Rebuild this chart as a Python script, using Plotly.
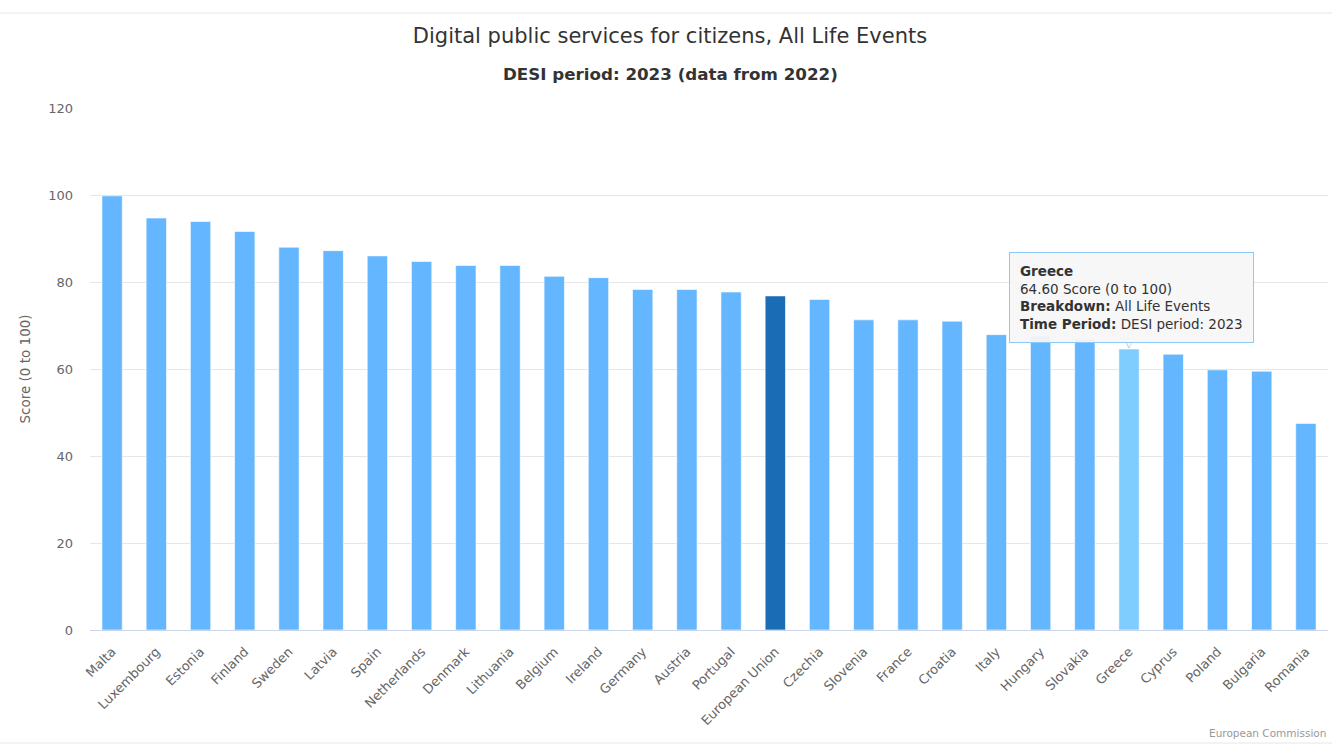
import plotly.graph_objects as go

# Scores (0 to 100), DESI period 2023
countries = ["Malta", "Luxembourg", "Estonia", "Finland", "Sweden", "Latvia", "Spain",
             "Netherlands", "Denmark", "Lithuania", "Belgium", "Ireland", "Germany", "Austria",
             "Portugal", "European Union", "Czechia", "Slovenia", "France", "Croatia", "Italy",
             "Hungary", "Slovakia", "Greece", "Cyprus", "Poland", "Bulgaria", "Romania"]
scores = [99.8, 94.7, 93.9, 91.6, 88.0, 87.2, 86.0, 84.7, 83.8, 83.8, 81.3, 81.0, 78.3, 78.3,
          77.7, 76.8, 76.0, 71.3, 71.3, 71.0, 67.9, 67.6, 67.0, 64.60, 63.4, 59.8, 59.5, 47.5]

highlight_avg = "European Union"
hovered = "Greece"

BASE = "#64b6fe"
AVG = "#1a6cb4"
HOVER = "#7fccff"
colors = [AVG if c == highlight_avg else HOVER if c == hovered else BASE for c in countries]

FONT = "DejaVu Sans"
W, H = 1332, 755
L, R, T, B = 90, 4, 108, 125
PW, PH = W - L - R, H - T - B

fig = go.Figure(go.Bar(
    x=countries, y=scores,
    marker=dict(color=colors, line=dict(color="rgba(255,255,255,0.6)", width=1)),
    hoverinfo="skip",
))

g_idx = countries.index(hovered)
g_x, g_y = countries[g_idx], scores[g_idx]
tooltip_text = ("<b>Greece</b><br>%.2f Score (0 to 100)<br><b>Breakdown:</b> All Life Events"
                "<br><b>Time Period:</b> DESI period: 2023" % g_y)

annotations = [
    # tooltip pointer: outline then fill
    dict(x=g_x, y=g_y, xref="x", yref="y", text="▼", showarrow=False,
         xanchor="center", yanchor="bottom", yshift=-4,
         font=dict(family=FONT, size=15, color="#8ccaf5")),
    dict(x=g_x, y=g_y, xref="x", yref="y", text="▼", showarrow=False,
         xanchor="center", yanchor="bottom", yshift=-2,
         font=dict(family=FONT, size=13, color="#f7f7f7")),
    dict(x=g_x, y=g_y, xref="x", yref="y", text=tooltip_text,
         showarrow=False, xanchor="center", yanchor="bottom", yshift=6, xshift=2,
         align="left", bgcolor="rgba(247,247,247,0.95)", bordercolor="#8ccaf5",
         borderwidth=1, borderpad=10,
         font=dict(family=FONT, size=13.5, color="#333333")),
    dict(text="<b>DESI period: 2023 (data from 2022)</b>", xref="paper", yref="paper",
         x=(W / 2 + 4 - L) / PW, y=1 + (T - 74) / PH, xanchor="center", yanchor="middle",
         showarrow=False, font=dict(family=FONT, size=16.7, color="#333333")),
    dict(text="European Commission", xref="paper", yref="paper",
         x=1, y=-(733 - (H - B)) / PH, xanchor="right", yanchor="middle",
         showarrow=False, font=dict(family=FONT, size=10.5, color="#999999")),
]

fig.update_layout(
    width=W, height=H,
    margin=dict(l=L, r=R, t=T, b=B),
    paper_bgcolor="white", plot_bgcolor="white",
    bargap=0.54, showlegend=False,
    font=dict(family=FONT, color="#666666"),
    title=dict(text="Digital public services for citizens, All Life Events",
               x=(W / 2 + 4) / W, xref="container", xanchor="center",
               y=1 - 36 / H, yanchor="middle",
               font=dict(family=FONT, size=21, color="#333333")),
    annotations=annotations,
    shapes=[
        dict(type="line", xref="paper", yref="paper", x0=-L / PW, x1=1 + R / PW,
             y0=1 + (T - 13) / PH, y1=1 + (T - 13) / PH,
             line=dict(color="#e6e6e6", width=1)),
        dict(type="line", xref="paper", yref="paper", x0=-L / PW, x1=1 + R / PW,
             y0=-(743 - (H - B)) / PH, y1=-(743 - (H - B)) / PH,
             line=dict(color="#e6e6e6", width=1)),
    ],
)

fig.update_yaxes(
    range=[0, 120], dtick=20, gridcolor="#e6e6e6", gridwidth=1, zeroline=False,
    showline=False, ticklabelstandoff=16,
    tickfont=dict(family=FONT, size=13, color="#666666"),
    title=dict(text="Score (0 to 100)", standoff=14,
               font=dict(family=FONT, size=13.5, color="#666666")),
)
fig.update_xaxes(
    tickangle=-45, showline=True, linecolor="#ccd6eb", linewidth=1,
    showgrid=False, tickfont=dict(family=FONT, size=13, color="#666666"),
    ticks="", ticklabelstandoff=8,
)

fig.write_html("out.html")
